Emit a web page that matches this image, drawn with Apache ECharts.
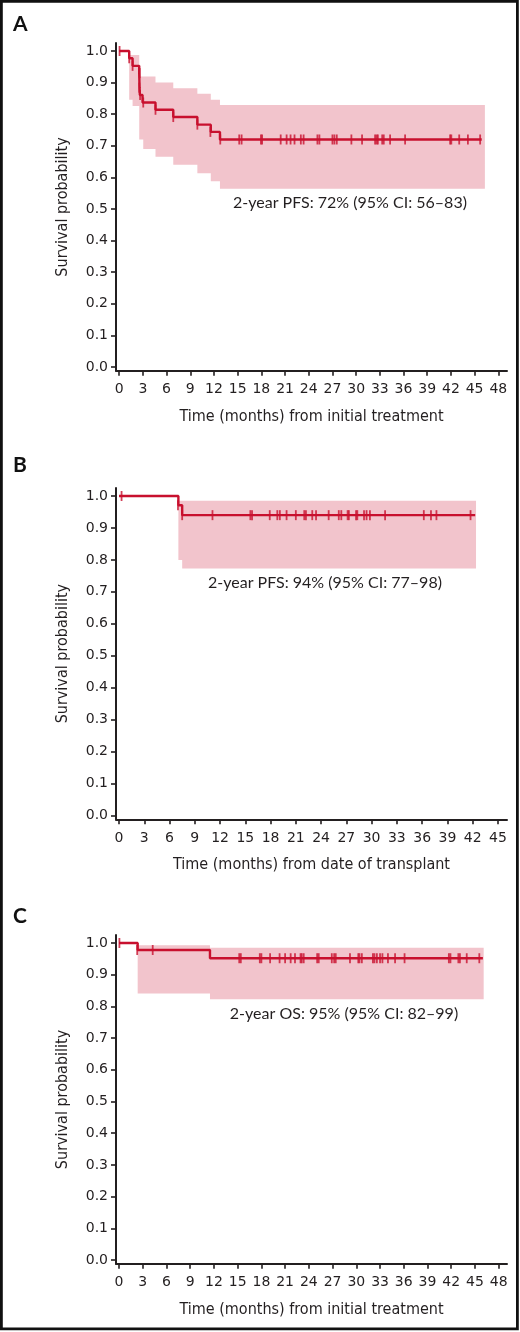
<!DOCTYPE html>
<html>
<head>
<meta charset="utf-8">
<script src="https://cdn.jsdelivr.net/npm/echarts@6/dist/echarts.min.js"></script>
<style>
html,body{margin:0;padding:0;background:#fff;}
#chart{width:520px;height:1332px;}
</style>
</head>
<body>
<div id="chart"></div>
<script>
// ---------- DATA ----------
// Tick labels
const xTicksA = [0,3,6,9,12,15,18,21,24,27,30,33,36,39,42,45,48];
const xTicksB = [0,3,6,9,12,15,18,21,24,27,30,33,36,39,42,45];
const xTicksC = [0,3,6,9,12,15,18,21,24,27,30,33,36,39,42,45,48];
const yTicks = [0,0.1,0.2,0.3,0.4,0.5,0.6,0.7,0.8,0.9,1.0];

// Panel A: PFS from initial treatment
const kmA = [[0,1],[1.27,0.977],[1.7,0.953],[2.54,0.930],[2.56,0.907],[2.58,0.884],[2.62,0.861],[2.96,0.837],[4.6,0.814],[6.85,0.791],[9.9,0.767],[11.6,0.744],[12.76,0.720],[45.9,0.720]];
const censorA = [[0.05,1],[1.27,0.977],[1.7,0.953],[2.6,0.930],[2.55,0.884],[2.65,0.861],[3.05,0.837],[4.6,0.814],[6.85,0.791],[9.9,0.767],[11.55,0.744],[12.8,0.720],
  [15.2,0.72],[15.5,0.72],[17.95,0.72],[18.1,0.72],[20.45,0.72],[21.2,0.72],[21.7,0.72],[22.2,0.72],[23.0,0.72],[23.35,0.72],[25.1,0.72],[25.35,0.72],[27.0,0.72],[27.25,0.72],[27.55,0.72],[29.4,0.72],[30.75,0.72],[32.4,0.72],[32.6,0.72],[32.75,0.72],[33.3,0.72],[33.5,0.72],[34.3,0.72],[36.2,0.72],[41.9,0.72],[42.05,0.72],[43.05,0.72],[44.15,0.72],[45.7,0.72]];
const ciTimesA = [0,1.27,1.7,2.54,3.05,4.6,6.85,9.9,11.6,12.76,46.3];
const ciLowA   = [1.0,0.846,0.826,0.72,0.69,0.665,0.64,0.613,0.588,0.564,0.564];
const ciUpA    = [1.0,0.987,0.987,0.919,0.919,0.90,0.882,0.865,0.846,0.829,0.829];

// Panel B: PFS from date of transplant
const kmB = [[0,1],[7.05,0.971],[7.5,0.94],[42.3,0.94]];
const censorB = [[0.3,1],[7.0,0.971],[7.5,0.94],
  [11.1,0.94],[15.6,0.94],[15.8,0.94],[17.9,0.94],[18.8,0.94],[19.1,0.94],[19.9,0.94],[21.0,0.94],[22.0,0.94],[22.2,0.94],[22.95,0.94],[23.4,0.94],[24.9,0.94],[26.1,0.94],[26.4,0.94],[27.15,0.94],[27.3,0.94],[28.15,0.94],[28.3,0.94],[29.1,0.94],[29.4,0.94],[29.8,0.94],[31.6,0.94],[36.2,0.94],[37.05,0.94],[37.7,0.94],[41.75,0.94]];
const ciTimesB = [0,7.05,7.5,42.4];
const ciLowB   = [1.0,0.80,0.773,0.773];
const ciUpB    = [1.0,0.985,0.985,0.985];

// Panel C: OS from initial treatment
const kmC = [[0,1],[2.36,0.978],[11.5,0.952],[46.0,0.952]];
const censorC = [[0.05,1],[2.3,0.978],[4.26,0.978],
  [15.2,0.952],[15.4,0.952],[17.8,0.952],[18.0,0.952],[19.1,0.952],[20.3,0.952],[21.0,0.952],[21.7,0.952],[22.25,0.952],[22.95,0.952],[23.1,0.952],[23.35,0.952],[25.05,0.952],[25.25,0.952],[26.9,0.952],[27.2,0.952],[27.4,0.952],[29.2,0.952],[30.25,0.952],[30.4,0.952],[30.7,0.952],[32.1,0.952],[32.3,0.952],[32.6,0.952],[33.0,0.952],[33.3,0.952],[34.0,0.952],[34.9,0.952],[36.1,0.952],[41.7,0.952],[41.9,0.952],[42.9,0.952],[43.1,0.952],[43.96,0.952],[45.55,0.952]];
const ciTimesC = [0,2.36,11.5,46.1];
const ciLowC   = [1.0,0.841,0.823,0.823];
const ciUpC    = [1.0,0.993,0.985,0.985];

const panelLetters = ['A','B','C'];
const xNames = ['Time (months) from initial treatment','Time (months) from date of transplant','Time (months) from initial treatment'];
const yName = 'Survival probability';
const notes = ['2-year PFS: 72% (95% CI: 56\u201383)','2-year PFS: 94% (95% CI: 77\u201398)','2-year OS: 95% (95% CI: 82\u201399)'];

// ---------- STYLE / LAYOUT ----------
const RED = '#c8102e';
const PINK = '#f2c4cc';
const INK = '#231f20';
const tickFont = "'DejaVu Sans', sans-serif";
const nameFont = "'Liberation Sans Narrow', 'DejaVu Sans Condensed', 'Roboto', sans-serif";
const noteFont = "Lato, 'Open Sans', sans-serif";

const grids = [
  {left:116, top:43.1, width:391, height:327.7},
  {left:116, top:488, width:391, height:331.3},
  {left:116, top:935.1, width:391, height:328.7}
];
const xRanges = [[-0.4,49.1],[-0.36,46.08],[-0.38,49.05]];
const xTicks = [xTicksA, xTicksB, xTicksC];
const letterPos = [[13,14],[13,455],[13,906]];
const notePos = [[350,203],[325,583],[344,1014]];

const panels = [
  {km:kmA, cen:censorA, ct:ciTimesA, lo:ciLowA, up:ciUpA},
  {km:kmB, cen:censorB, ct:ciTimesB, lo:ciLowB, up:ciUpB},
  {km:kmC, cen:censorC, ct:ciTimesC, lo:ciLowC, up:ciUpC}
];

function bandRenderer(p) {
  return function (params, api) {
    const pts = [];
    for (let k = 0; k < p.ct.length - 1; k++) {
      pts.push(api.coord([p.ct[k], p.up[k]]));
      pts.push(api.coord([p.ct[k + 1], p.up[k]]));
    }
    for (let k = p.ct.length - 2; k >= 0; k--) {
      pts.push(api.coord([p.ct[k + 1], p.lo[k]]));
      pts.push(api.coord([p.ct[k], p.lo[k]]));
    }
    return {type:'polygon', shape:{points:pts}, style:{fill:PINK, stroke:null}, silent:true};
  };
}

const xAxis = [], yAxis = [], series = [];
panels.forEach((p, i) => {
  xAxis.push({
    type:'value', gridIndex:i, min:xRanges[i][0], max:xRanges[i][1],
    name:xNames[i], nameLocation:'middle', nameGap:38,
    nameTextStyle:{fontFamily:nameFont, fontSize:16, color:INK},
    axisLine:{show:true, onZero:false, lineStyle:{color:INK, width:2}},
    axisTick:{show:true, customValues:xTicks[i], length:5, lineStyle:{color:INK, width:1.6}},
    axisLabel:{show:true, customValues:xTicks[i], margin:12, fontFamily:tickFont, fontSize:14, color:INK},
    splitLine:{show:false}
  });
  yAxis.push({
    type:'value', gridIndex:i, min:-0.012, max:1.025,
    name:yName, nameLocation:'middle', nameGap:45,
    nameTextStyle:{fontFamily:nameFont, fontSize:16, color:INK},
    axisLine:{show:true, onZero:false, lineStyle:{color:INK, width:2}},
    axisTick:{show:true, customValues:yTicks, length:5, lineStyle:{color:INK, width:1.6}},
    axisLabel:{show:true, customValues:yTicks, margin:8, fontFamily:tickFont, fontSize:14, color:INK,
      formatter: v => v.toFixed(1)},
    splitLine:{show:false}
  });
  series.push({
    type:'custom', xAxisIndex:i, yAxisIndex:i, silent:true, z:1,
    data:[[p.ct[0], p.up[0]]],
    renderItem: bandRenderer(p)
  });
  series.push({
    type:'line', xAxisIndex:i, yAxisIndex:i, step:'end', symbol:'none', silent:true,
    data:p.km, lineStyle:{color:RED, width:2.4}, z:3
  });
  series.push({
    type:'scatter', xAxisIndex:i, yAxisIndex:i, symbol:'rect', symbolSize:[1.8,10], silent:true,
    data:p.cen, itemStyle:{color:RED}, z:4
  });
});

const graphic = [
  {type:'rect', shape:{x:1.4, y:1.4, width:516, height:1327.5}, style:{fill:'none', stroke:'#111', lineWidth:2.8}, z:10}
];
panelLetters.forEach((L,i)=>{
  graphic.push({type:'text', left:letterPos[i][0], top:letterPos[i][1],
    style:{text:L, font:"bold 21px Lato, 'Open Sans', sans-serif", fill:'#111'}});
  graphic.push({type:'text', x:notePos[i][0], y:notePos[i][1],
    style:{text:notes[i], font:"16px " + noteFont, fill:INK, textAlign:'center', textVerticalAlign:'middle'}});
});

const chart = echarts.init(document.getElementById('chart'), null, {renderer:'canvas'});
chart.setOption({animation:false, backgroundColor:'#fff', grid:grids, xAxis, yAxis, series, graphic});
</script>
</body>
</html>
